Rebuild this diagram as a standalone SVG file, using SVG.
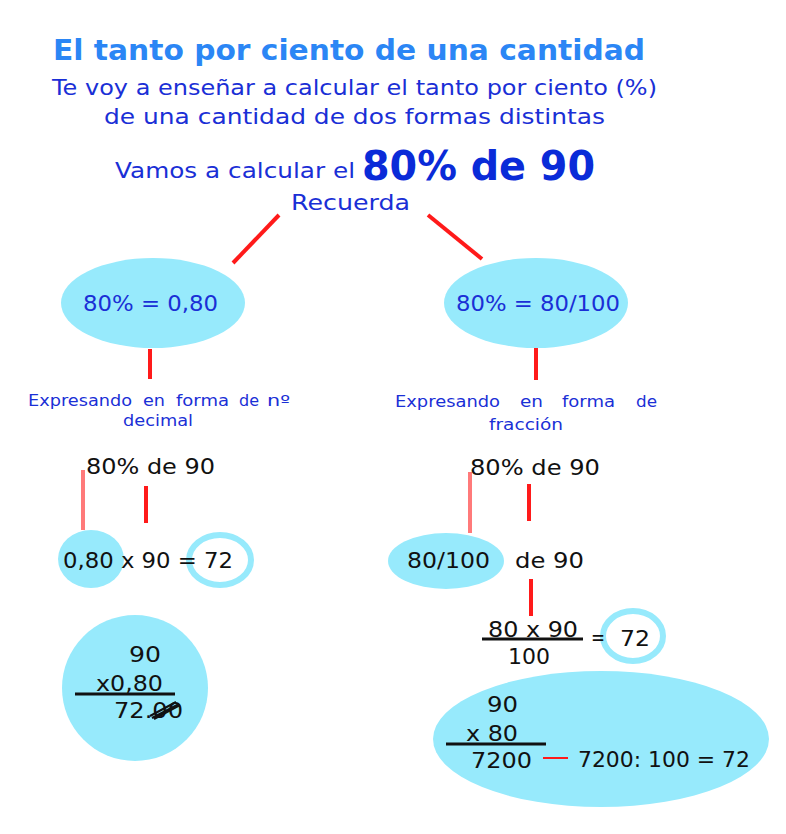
<svg xmlns="http://www.w3.org/2000/svg" width="786" height="834" viewBox="0 0 786 834">
<style>
text{font-family:"DejaVu Sans","Liberation Sans",sans-serif}
.b{fill:#1a2fd6;font-size:22px}
.k{fill:#111;font-size:22px}
.s{fill:#1a2fd6;font-size:16px}
.red{stroke:#ff1a1a;stroke-width:4;fill:none}
.pink{stroke:#ff7a7a;stroke-width:4;fill:none}
.blob{fill:#97eafc}
.ring{fill:#fff;stroke:#97eafc;stroke-width:6}
.bar{stroke:#111;stroke-width:3}
</style>
<rect width="786" height="834" fill="#fff"/>
<g id="header">
<text x="53" y="60" font-size="28" font-weight="bold" fill="#2b86f5" textLength="592" lengthAdjust="spacingAndGlyphs">El tanto por ciento de una cantidad</text>
<text class="b" x="52" y="95" textLength="605" lengthAdjust="spacingAndGlyphs">Te voy a enseñar a calcular el tanto por ciento (%)</text>
<text class="b" x="104" y="124" textLength="501" lengthAdjust="spacingAndGlyphs">de una cantidad de dos formas distintas</text>
<text class="b" x="115" y="178" textLength="240" lengthAdjust="spacingAndGlyphs">Vamos a calcular el</text>
<text x="362" y="180" font-size="40" font-weight="bold" fill="#0a2bd8" textLength="233" lengthAdjust="spacingAndGlyphs">80% de 90</text>
<text class="b" x="291" y="210" textLength="119" lengthAdjust="spacingAndGlyphs">Recuerda</text>
</g>
<g id="connectors">
<line class="red" x1="279" y1="215" x2="233" y2="263"/>
<line class="red" x1="428" y1="215" x2="482" y2="259"/>
<line class="red" x1="150" y1="349" x2="150" y2="379"/>
<line class="red" x1="536" y1="348" x2="536" y2="380"/>
<line class="pink" x1="83" y1="470" x2="83" y2="530"/>
<line class="red" x1="146" y1="486" x2="146" y2="523"/>
<line class="pink" x1="470" y1="472" x2="470" y2="533"/>
<line class="red" x1="529" y1="484" x2="529" y2="521"/>
<line class="red" x1="531" y1="579" x2="531" y2="616"/>
</g>
<g id="left-percent">
<ellipse class="blob" cx="153" cy="303" rx="92" ry="45"/>
<text class="b" x="83" y="311" textLength="135" lengthAdjust="spacingAndGlyphs">80% = 0,80</text>
</g>
<g id="right-percent">
<ellipse class="blob" cx="536" cy="303" rx="92" ry="45"/>
<text class="b" x="456" y="311" textLength="164" lengthAdjust="spacingAndGlyphs">80% = 80/100</text>
</g>
<g id="left-label">
<text class="s" x="28" y="406" textLength="104" lengthAdjust="spacingAndGlyphs">Expresando</text>
<text class="s" x="143" y="406" textLength="22" lengthAdjust="spacingAndGlyphs">en</text>
<text class="s" x="176" y="406" textLength="53" lengthAdjust="spacingAndGlyphs">forma</text>
<text class="s" x="239" y="406" textLength="20" lengthAdjust="spacingAndGlyphs">de</text>
<text class="s" x="267" y="406" textLength="23" lengthAdjust="spacingAndGlyphs">nº</text>
<text class="s" x="123" y="426" textLength="70" lengthAdjust="spacingAndGlyphs">decimal</text>
</g>
<g id="right-label">
<text class="s" x="395" y="407" textLength="105" lengthAdjust="spacingAndGlyphs">Expresando</text>
<text class="s" x="520" y="407" textLength="23" lengthAdjust="spacingAndGlyphs">en</text>
<text class="s" x="562" y="407" textLength="53" lengthAdjust="spacingAndGlyphs">forma</text>
<text class="s" x="636" y="407" textLength="21" lengthAdjust="spacingAndGlyphs">de</text>
<text class="s" x="489" y="430" textLength="74" lengthAdjust="spacingAndGlyphs">fracción</text>
</g>
<g id="left-calc">
<text class="k" x="86" y="474" textLength="129" lengthAdjust="spacingAndGlyphs">80% de 90</text>
<ellipse class="blob" cx="91" cy="559" rx="33" ry="29"/>
<ellipse class="ring" cx="220" cy="560" rx="31" ry="25"/>
<text class="k" x="63" y="568" textLength="170" lengthAdjust="spacingAndGlyphs">0,80 x 90 = 72</text>
</g>
<g id="left-circle">
<circle class="blob" cx="135" cy="688" r="73"/>
<text class="k" x="129" y="662" textLength="32" lengthAdjust="spacingAndGlyphs">90</text>
<text class="k" x="96" y="691" textLength="67" lengthAdjust="spacingAndGlyphs">x0,80</text>
<line class="bar" x1="75" y1="694" x2="175" y2="694"/>
<text class="k" x="114" y="718" textLength="69" lengthAdjust="spacingAndGlyphs">72.00</text>
<path d="M150 716 L176 702 M152 718 L179 704 M154 719 L180 705" stroke="#111" stroke-width="2" fill="none"/>
</g>
<g id="right-calc">
<text class="k" x="470" y="475" textLength="130" lengthAdjust="spacingAndGlyphs">80% de 90</text>
<ellipse class="blob" cx="446" cy="561" rx="58" ry="28"/>
<text class="k" x="407" y="568" textLength="83" lengthAdjust="spacingAndGlyphs">80/100</text>
<text class="k" x="515" y="568" textLength="69" lengthAdjust="spacingAndGlyphs">de 90</text>
<text class="k" x="488" y="637" font-size="21" textLength="90" lengthAdjust="spacingAndGlyphs">80 x 90</text>
<line class="bar" x1="482" y1="639" x2="583" y2="639"/>
<text class="k" x="508" y="664" font-size="21" textLength="42" lengthAdjust="spacingAndGlyphs">100</text>
<ellipse class="ring" cx="633" cy="636" rx="30" ry="25"/>
<text class="k" x="591" y="645" textLength="14" lengthAdjust="spacingAndGlyphs">=</text>
<text class="k" x="620" y="646" textLength="30" lengthAdjust="spacingAndGlyphs">72</text>
</g>
<g id="right-ellipse">
<ellipse class="blob" cx="601" cy="739" rx="168" ry="68"/>
<text class="k" x="487" y="712" textLength="31" lengthAdjust="spacingAndGlyphs">90</text>
<text class="k" x="466" y="741" font-size="21" textLength="52" lengthAdjust="spacingAndGlyphs">x 80</text>
<line class="bar" x1="446" y1="744" x2="546" y2="744"/>
<text class="k" x="471" y="768" font-size="21" textLength="61" lengthAdjust="spacingAndGlyphs">7200</text>
<line x1="543" y1="758" x2="568" y2="758" stroke="#ff1a1a" stroke-width="2"/>
<text class="k" x="578" y="767" textLength="172" lengthAdjust="spacingAndGlyphs">7200: 100 = 72</text>
</g>
</svg>
